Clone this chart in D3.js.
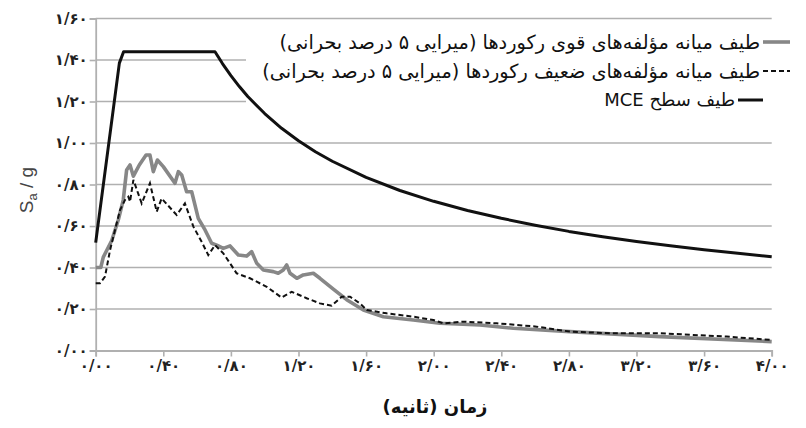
<!DOCTYPE html>
<html><head><meta charset="utf-8">
<script src="https://cdn.jsdelivr.net/npm/d3@7/dist/d3.min.js"></script>
<style>
html,body{margin:0;padding:0;background:#fff;}
svg{display:block;}
</style></head>
<body><svg id="c" width="806" height="428"></svg>
<script>
// ---- data ----
const xTicks = [0, 0.4, 0.8, 1.2, 1.6, 2.0, 2.4, 2.8, 3.2, 3.6, 4.0];
const xTickLabels = ["۰/۰۰","۰/۴۰","۰/۸۰","۱/۲۰","۱/۶۰","۲/۰۰","۲/۴۰","۲/۸۰","۳/۲۰","۳/۶۰","۴/۰۰"];
const yTicks = [0, 0.2, 0.4, 0.6, 0.8, 1.0, 1.2, 1.4, 1.6];
const yTickLabels = ["۰/۰۰","۰/۲۰","۰/۴۰","۰/۶۰","۰/۸۰","۱/۰۰","۱/۲۰","۱/۴۰","۱/۶۰"];

const strongT = [0,0.03,0.045,0.095,0.134,0.163,0.183,0.203,0.223,0.258,0.298,0.321,0.341,0.365,0.40,0.469,0.489,0.509,0.538,0.568,0.607,0.647,0.686,0.716,0.755,0.795,0.844,0.893,0.923,0.953,0.992,1.051,1.08,1.11,1.13,1.15,1.19,1.228,1.288,1.327,1.406,1.485,1.584,1.702,1.879,2.037,2.274,2.471,2.806,3.339,4.0];
const strongSa = [0.40,0.40,0.45,0.53,0.63,0.725,0.87,0.894,0.84,0.894,0.942,0.942,0.862,0.918,0.886,0.806,0.862,0.846,0.765,0.765,0.637,0.581,0.517,0.508,0.492,0.504,0.46,0.455,0.476,0.42,0.388,0.38,0.372,0.388,0.412,0.372,0.348,0.364,0.372,0.348,0.296,0.245,0.195,0.163,0.147,0.131,0.123,0.107,0.091,0.067,0.043];

const weakT = [0,0.025,0.055,0.085,0.114,0.144,0.173,0.193,0.203,0.223,0.272,0.321,0.361,0.39,0.479,0.528,0.578,0.627,0.666,0.706,0.755,0.795,0.834,0.913,1.012,1.1,1.16,1.248,1.327,1.396,1.456,1.505,1.564,1.604,1.722,1.879,1.998,2.057,2.175,2.373,2.609,2.806,3.043,3.339,3.733,4.0];
const weakSa = [0.324,0.324,0.356,0.484,0.58,0.677,0.725,0.741,0.717,0.822,0.709,0.806,0.669,0.733,0.653,0.709,0.597,0.524,0.46,0.508,0.468,0.42,0.372,0.348,0.307,0.255,0.283,0.252,0.227,0.216,0.259,0.259,0.227,0.195,0.179,0.163,0.147,0.131,0.139,0.131,0.115,0.091,0.083,0.083,0.067,0.051];

const mceT = [0,0.14,0.165,0.706,0.75,0.8,0.85,0.9,1.0,1.1,1.2,1.3,1.4,1.6,1.8,2.0,2.2,2.4,2.6,2.8,3.0,3.2,3.4,3.6,3.8,4.0];
const mceSa = [0.52,1.385,1.44,1.44,1.383,1.325,1.272,1.224,1.142,1.071,1.011,0.958,0.912,0.834,0.771,0.719,0.675,0.637,0.604,0.574,0.548,0.525,0.505,0.486,0.469,0.452];

const legendLabels = [
  "طیف میانه مؤلفه‌های قوی رکوردها (میرایی ۵ درصد بحرانی)",
  "طیف میانه مؤلفه‌های ضعیف رکوردها (میرایی ۵ درصد بحرانی)",
  "طیف سطح MCE"
];
const xTitle = "زمان (ثانیه)";

// ---- drawing ----
const svg = d3.select("#c");
const x = d3.scaleLinear().domain([0,4]).range([95.7,771.7]);
const y = d3.scaleLinear().domain([0,1.6]).range([350.5,18.5]);
const gridCol = "#b0b0b0";
const persFont = "'DejaVu Sans', 'Noto Sans', sans-serif";

// gridlines
svg.append("g").selectAll("line").data(yTicks.filter(d=>d>0)).join("line")
  .attr("x1", x(0)).attr("x2", x(4)).attr("y1", d=>y(d)).attr("y2", d=>y(d))
  .attr("stroke", gridCol).attr("stroke-width", 1.7);

// y axis
const yAxis = d3.axisLeft(y).tickValues(yTicks).tickSize(6).tickPadding(2)
  .tickFormat((d,i)=>yTickLabels[i]);
const gy = svg.append("g").attr("transform", `translate(${x(0)},0)`).call(yAxis);
gy.select(".domain").attr("stroke", gridCol).attr("stroke-width", 1.8);
gy.selectAll(".tick line").attr("stroke", gridCol).attr("stroke-width", 1.6);
gy.selectAll(".tick text").attr("font-family", persFont).attr("font-size", 15)
  .attr("font-weight", "bold").attr("fill", "#222").attr("direction","ltr");

// x axis
const xAxis = d3.axisBottom(x).tickValues(xTicks).tickSize(6).tickPadding(4)
  .tickFormat((d,i)=>xTickLabels[i]);
const gx = svg.append("g").attr("transform", `translate(0,${y(0)})`).call(xAxis);
gx.select(".domain").attr("stroke", gridCol).attr("stroke-width", 1.8);
gx.selectAll(".tick line").attr("stroke", gridCol).attr("stroke-width", 1.6);
gx.selectAll(".tick text").attr("font-family", persFont).attr("font-size", 15)
  .attr("font-weight", "bold").attr("fill", "#222").attr("direction","ltr");

// legend background
svg.append("rect").attr("x", 246).attr("y", 26).attr("width", 560).attr("height", 88).attr("fill", "#fff");

// series
const line = d3.line().x(d=>x(d[0])).y(d=>y(d[1]));
svg.append("path").datum(strongT.map((t,i)=>[t,strongSa[i]]))
  .attr("d", line).attr("fill","none").attr("stroke","#878787").attr("stroke-width",3.6).attr("stroke-linejoin","round");
svg.append("path").datum(weakT.map((t,i)=>[t,weakSa[i]]))
  .attr("d", line).attr("fill","none").attr("stroke","#111").attr("stroke-width",2).attr("stroke-dasharray","5,3");
svg.append("path").datum(mceT.map((t,i)=>[t,mceSa[i]]))
  .attr("d", line).attr("fill","none").attr("stroke","#111").attr("stroke-width",3).attr("stroke-linejoin","round");

// legend
const leg = [
  {y:42, x1:763, x2:790, stroke:"#878787", w:3.6, dash:null},
  {y:71, x1:763, x2:790, stroke:"#111", w:2, dash:"5,3"},
  {y:100, x1:738, x2:763, stroke:"#111", w:3, dash:null}
];
leg.forEach((l,i)=>{
  svg.append("line").attr("x1",l.x1).attr("x2",l.x2).attr("y1",l.y).attr("y2",l.y)
    .attr("stroke",l.stroke).attr("stroke-width",l.w).attr("stroke-dasharray",l.dash);
  svg.append("text").attr("x", l.x1-3).attr("y", l.y).attr("dy","0.35em")
    .attr("direction","rtl").attr("text-anchor","start")
    .attr("font-family", persFont).attr("font-size", i<2 ? 19.3 : 18).attr("fill","#111")
    .text(legendLabels[i]);
});

// y title
const yt = svg.append("text").attr("transform","translate(33,190) rotate(-90)")
  .attr("text-anchor","middle").attr("font-family","'Liberation Sans', Arial, sans-serif")
  .attr("font-size",19).attr("fill","#444");
yt.append("tspan").text("S");
yt.append("tspan").attr("font-size",13).attr("dy",4).text("a");
yt.append("tspan").attr("dy",-4).text(" / g");

// x title
svg.append("text").attr("x", 435).attr("y", 413).attr("text-anchor","middle")
  .attr("direction","rtl").attr("font-family", persFont).attr("font-size",18)
  .attr("font-weight","bold").attr("fill","#111").text(xTitle);
</script></body></html>
